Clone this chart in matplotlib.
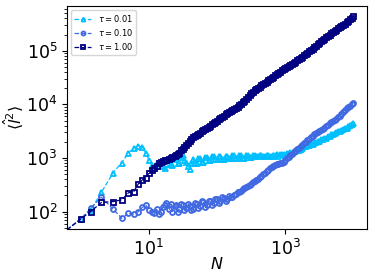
import matplotlib
matplotlib.use('Agg')
import matplotlib.pyplot as plt
from matplotlib.ticker import NullLocator

# N (steps); first point N=0 with <l^2>=0
N = ([0, 1, 1.4, 2, 3, 4, 5, 6, 7, 8, 9, 10, 11, 12, 13, 14, 15, 16, 17, 18]
     + [20, 21, 22, 24, 25, 27, 28, 30, 32, 33, 35, 38, 40, 42, 45, 47, 50, 53, 56, 60, 63, 67, 71, 75, 79, 84, 89, 94]
     + [100, 106, 112, 119, 126, 133, 141, 150, 158, 168, 178, 188, 200, 211, 224, 237, 251, 266, 282, 299,
        316, 335, 355, 376, 398, 422, 447, 473, 501, 531, 562, 596, 631, 668, 708, 750, 794, 841, 891, 944]
     + [1000, 1059, 1122, 1189, 1259, 1334, 1413, 1496, 1585, 1679, 1778, 1884, 1995, 2113, 2239, 2371, 2512, 2661, 2818, 2985,
        3162, 3350, 3548, 3758, 3981, 4217, 4467, 4732, 5012, 5309, 5623, 5957, 6310, 6683, 7079, 7499, 7943, 8414, 8913, 9441]
     + [10000])

# tau = 0.01
l2_001 = ([0, 73, 107, 228, 536, 820, 1250, 1550, 1680, 1580, 1250, 930, 750, 650, 800, 700, 850, 720, 650, 780]
          + [900, 760, 750, 950, 1000, 820, 800, 1050, 1150, 900, 850, 700, 620, 800, 950, 820, 800, 1000, 1000, 850,
             850, 1050, 1050, 900, 900, 1100, 1100, 950]
          + [950, 1100, 1100, 950, 950, 1100, 1100, 980, 980, 1120, 1120, 1000, 1000, 1150, 1150, 1020, 1020, 1150, 1150, 1050,
             1050, 1150, 1150, 1080, 1080, 1150, 1150, 1080, 1080, 1150, 1150, 1100, 1100, 1160, 1120, 1170, 1100, 1180, 1170, 1200]
          + [1150, 1240, 1230, 1270, 1220, 1330, 1330, 1400, 1400, 1500, 1550, 1650, 1650, 1750, 1780, 1850, 1850, 1980, 2000, 2100,
             2100, 2250, 2300, 2400, 2350, 2550, 2600, 2750, 2750, 2950, 3000, 3150, 3150, 3350, 3450, 3600, 3700, 3950, 4100, 4350]
          + [4500])

# tau = 0.10
l2_010 = ([0, 73, 115, 186, 110, 75, 93, 90, 100, 120, 133, 108, 100, 95, 110, 90, 100, 120, 135, 145]
          + [110, 140, 100, 125, 130, 100, 110, 140, 135, 105, 115, 140, 125, 105, 110, 145, 140, 115, 125, 155,
             150, 120, 130, 160, 155, 130, 145, 175]
          + [170, 145, 160, 185, 180, 160, 170, 195, 190, 185, 200, 215, 230, 235, 245, 260, 270, 285, 300, 315,
             330, 350, 370, 390, 410, 435, 460, 495, 530, 565, 600, 640, 680, 720, 750, 770, 780, 800, 820, 860]
          + [900, 980, 1050, 1120, 1200, 1270, 1350, 1450, 1550, 1650, 1750, 1870, 2000, 2150, 2300, 2450, 2600, 2750, 2900, 3050,
             3200, 3350, 3500, 3700, 3900, 4150, 4400, 4650, 4900, 5100, 5300, 5700, 6200, 6700, 7300, 7800, 8400, 8900, 9500, 10100]
          + [10800])

# tau = 1.00
l2_100 = ([0, 73, 100, 148, 154, 166, 224, 237, 330, 390, 420, 525, 600, 650, 700, 800, 830, 870, 900, 920]
          + [950, 1000, 1040, 1100, 1150, 1200, 1260, 1380, 1500, 1620, 1750, 1900, 2050, 2250, 2450, 2550, 2650, 2800, 2950, 3150,
             3300, 3450, 3600, 3800, 3950, 4250, 4500, 4750]
          + [5000, 5300, 5600, 5900, 6200, 6550, 6900, 7150, 7400, 7750, 8100, 8550, 9000, 9650, 10300, 11000, 11800, 12800, 13800, 14900,
             16000, 17200, 18500, 19500, 20500, 21500, 22500, 23700, 25000, 26500, 28000, 29500, 31000, 33000, 35000, 37000, 39000, 41000, 43000, 45000]
          + [47000, 49500, 52000, 54500, 57000, 60000, 63000, 66000, 69000, 73000, 77000, 82000, 87000, 92500, 98000, 104000, 110000, 117000, 125000, 132000,
             140000, 149000, 158000, 168000, 178000, 188000, 198000, 210000, 222000, 235000, 248000, 261000, 275000, 290000, 305000, 322000, 340000, 362000, 385000, 410000]
          + [440000])

plt.figure(figsize=(3.73, 2.78), dpi=100)
plt.subplots_adjust(left=0.18, right=0.984, bottom=0.176, top=0.978)
ax = plt.gca()

ax.loglog(N, l2_001, '--^', color='deepskyblue', mfc='none', ms=3.6, mew=1.3, lw=0.9, label=r'$\tau = 0.01$')
ax.loglog(N, l2_010, '--o', color='royalblue', mfc='none', ms=3.6, mew=1.3, lw=0.9, label=r'$\tau = 0.10$')
ax.loglog(N, l2_100, '--s', color='navy', mfc='none', ms=3.6, mew=1.3, lw=0.9, label=r'$\tau = 1.00$')

ax.set_xticks([10, 1000])
ax.xaxis.set_minor_locator(NullLocator())
ax.tick_params(labelsize=12.5)
ax.set_xlabel(r'$N$', fontsize=11.5)
ax.set_ylabel(r'$\langle \hat{l}^2 \rangle$', fontsize=11.5)
ax.xaxis.set_label_coords(0.5, -0.12)
ax.yaxis.set_label_coords(-0.14, 0.5)
ax.legend(loc='upper left', fontsize=6, labelspacing=0.35, borderpad=0.35, markerscale=0.8)

plt.savefig('out.png')
